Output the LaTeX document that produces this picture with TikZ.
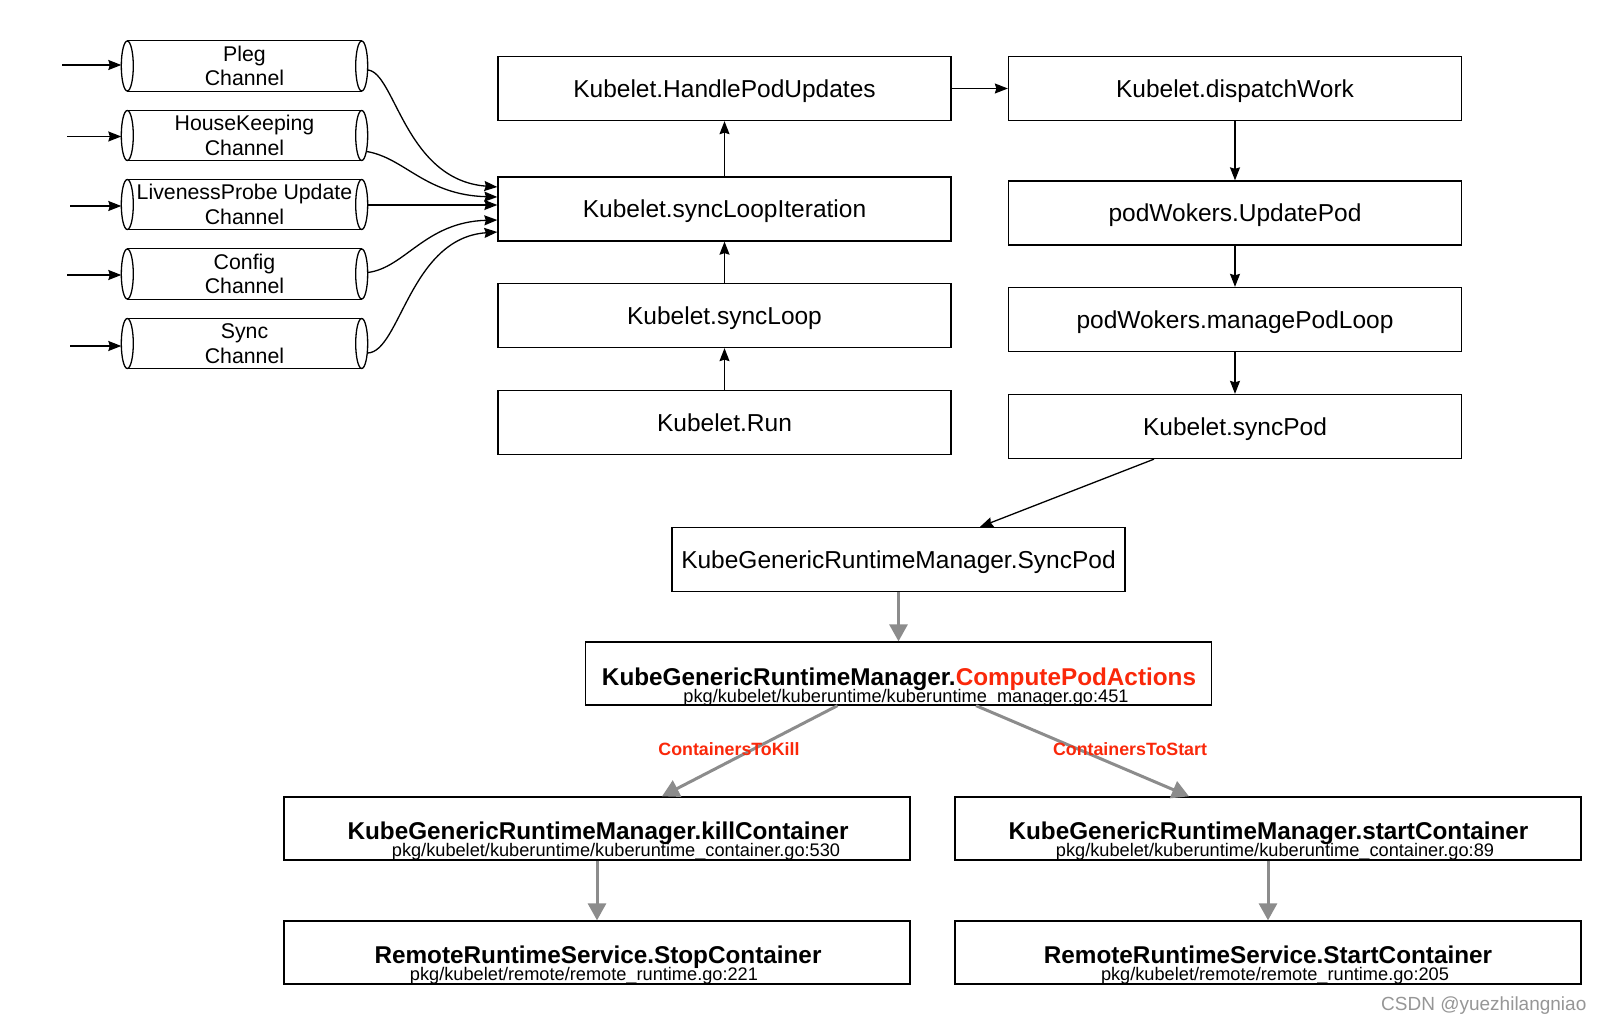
\documentclass[tikz,border=0pt]{standalone}
\usepackage{fontspec}
\setmainfont{Liberation Sans}
\usetikzlibrary{arrows.meta,calc}
\definecolor{redtxt}{RGB}{250,40,10}
\definecolor{garrow}{RGB}{140,140,140}
\definecolor{wmc}{RGB}{150,150,150}
\begin{document}
\begin{tikzpicture}[x=1pt,y=-1pt,
 box/.style={draw=black,line width=1.3pt,minimum width=453pt,minimum height=64pt,inner sep=0pt,text height=17.5pt,text depth=0pt,font=\fontsize{24.5}{28}\selectfont},
 wbox/.style={draw=black,line width=1.3pt,minimum width=626pt,minimum height=63pt,inner sep=0pt},
 chan/.style={minimum width=234pt,minimum height=50pt,inner sep=0pt,align=center,font=\fontsize{21.3}{24.5}\selectfont},
 cyl/.style={line width=1.3pt},
 ar/.style={line width=1.3pt,-{Stealth[length=13pt,width=10pt,inset=1.5pt]}},
 gar/.style={draw=garrow,line width=3pt,-{Triangle[length=17pt,width=18pt]}},
 btitle/.style={anchor=base,font=\fontsize{24.3}{28}\selectfont\bfseries,inner sep=0pt},
 bpath/.style={anchor=base,font=\fontsize{18.2}{20}\selectfont,inner sep=0pt},
 lbl/.style={anchor=base,text=redtxt,font=\fontsize{17.8}{20}\selectfont\bfseries,inner sep=0pt},
]
\fill[white] (0,0) rectangle (1604,1024);
\useasboundingbox (0,0) rectangle (1604,1024);

% channels
\node[chan] (pleg) at (244.5,66) {Pleg\\Channel};
\node[chan] (hk) at (244.5,135.5) {HouseKeeping\\Channel};
\node[chan] (lp) at (244.5,204.5) {LivenessProbe Update\\Channel};
\node[chan] (cfg) at (244.5,274) {Config\\Channel};
\node[chan] (sy) at (244.5,343.5) {Sync\\Channel};
\foreach \n in {pleg,hk,lp,cfg,sy}{
  \draw[cyl] (\n.north west) -- (\n.north east) (\n.south west) -- (\n.south east);
  \draw[cyl] (\n.west) ellipse [x radius=6pt,y radius=25pt];
  \draw[cyl] (\n.east) ellipse [x radius=6pt,y radius=25pt];
}

% main boxes
\node[box] (hpu) at (724.5,88.5) {Kubelet.HandlePodUpdates};
\node[box] (sli) at (724.5,209) {Kubelet.syncLoopIteration};
\node[box] (sl) at (724.5,315.5) {Kubelet.syncLoop};
\node[box] (run) at (724.5,422.5) {Kubelet.Run};
\node[box] (dw) at (1235,88.5) {Kubelet.dispatchWork};
\node[box] (up) at (1235,213) {podWokers.UpdatePod};
\node[box] (mpl) at (1235,319.5) {podWokers.managePodLoop};
\node[box] (sp) at (1235,426.5) {Kubelet.syncPod};
\node[box] (kgsp) at (898.5,559.5) {KubeGenericRuntimeManager.SyncPod};

\node[wbox] (cpa) at (898.5,673.5) {};
\node[wbox] (kill) at (597,828.5) {};
\node[wbox] (start) at (1268,828.5) {};
\node[wbox] (stop) at (597,952.5) {};
\node[wbox] (startc) at (1268,952.5) {};

\node[btitle] (cpaT) at (899,685) {KubeGenericRuntimeManager.\textcolor{redtxt}{ComputePodActions}};
\node[bpath] (cpaP) at (906,702) {pkg/kubelet/kuberuntime/kuberuntime\_manager.go:451};
\node[btitle] (killT) at (598,839) {KubeGenericRuntimeManager.killContainer};
\node[bpath] (killP) at (616,856) {pkg/kubelet/kuberuntime/kuberuntime\_container.go:530};
\node[btitle] (startT) at (1268.5,839) {KubeGenericRuntimeManager.startContainer};
\node[bpath] (startP) at (1275,856.5) {pkg/kubelet/kuberuntime/kuberuntime\_container.go:89};
\node[btitle] (stopT) at (598,963) {RemoteRuntimeService.StopContainer};
\node[bpath] (stopP) at (584,980) {pkg/kubelet/remote/remote\_runtime.go:221};
\node[btitle] (startcT) at (1268,963) {RemoteRuntimeService.StartContainer};
\node[bpath] (startcP) at (1275,980) {pkg/kubelet/remote/remote\_runtime.go:205};

% input arrows
\coordinate (i1) at (62,65);
\coordinate (i2) at (67,136.5);
\coordinate (i3) at (70,206);
\coordinate (i4) at (67,275);
\coordinate (i5) at (70,346);
\draw[ar] (i1) -- ($(pleg.west |- i1)+(-6,0)$);
\draw[ar] (i2) -- ($(hk.west |- i2)+(-6,0)$);
\draw[ar] (i3) -- ($(lp.west |- i3)+(-6,0)$);
\draw[ar] (i4) -- ($(cfg.west |- i4)+(-6,0)$);
\draw[ar] (i5) -- ($(sy.west |- i5)+(-6,0)$);

% channel outputs
\draw[ar] ($(pleg.east)+(6,4)$) .. controls (395,72) and (405,180) .. ($(sli.west)+(0,-22)$);
\draw[ar] ($(hk.east)+(5,16)$) .. controls (405,158) and (425,195) .. ($(sli.west)+(0,-12)$);
\draw[ar] ($(lp.east)+(6,0.5)$) -- ($(sli.west)+(0,-4)$);
\draw[ar] ($(cfg.east)+(6,-1.5)$) .. controls (405,268) and (425,222) .. ($(sli.west)+(0,11)$);
\draw[ar] ($(sy.east)+(6,9.5)$) .. controls (400,352) and (410,238) .. ($(sli.west)+(0,23)$);

% main flow
\draw[ar] (sli.north) -- (hpu.south);
\draw[ar] (sl.north) -- (sli.south);
\draw[ar] (run.north) -- (sl.south);
\draw[ar] (hpu.east) -- (dw.west);
\draw[ar] (dw.south) -- (up.north);
\draw[ar] (up.south) -- (mpl.north);
\draw[ar] (mpl.south) -- (sp.north);
\draw[ar] ($(sp.south)+(-81,0)$) -- ($(kgsp.north)+(81.5,0)$);

\draw[gar] (kgsp.south) -- (cpa.north);
\draw[gar] ($(cpa.south)+(-61,0)$) -- ($(kill.north)+(65,0)$);
\draw[gar] ($(cpa.south)+(77.5,0)$) -- ($(start.north)+(-79,0)$);
\draw[gar] (kill.south) -- (stop.north);
\draw[gar] (start.south) -- (startc.north);

\node[lbl] (lk) at (729,755) {ContainersToKill};
\node[lbl] (ls) at (1130,755) {ContainersToStart};

\node[anchor=base west,text=wmc,inner sep=0pt,font=\fontsize{19}{22}\selectfont] (wmk) at (1381,1010) {CSDN @yuezhilangniao};
\end{tikzpicture}
\end{document}
